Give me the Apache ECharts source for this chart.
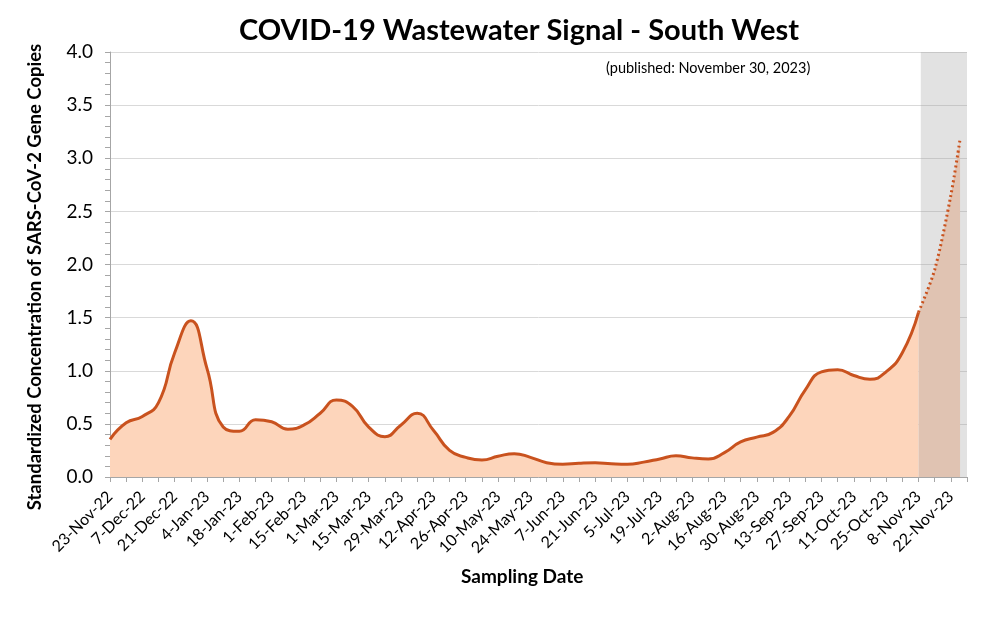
<!DOCTYPE html>
<html>
<head>
<meta charset="utf-8">
<script src="https://cdn.jsdelivr.net/npm/echarts@6/dist/echarts.min.js"></script>
<style>
  html, body { margin: 0; padding: 0; background: #fff; }
  #chart-panel { width: 1002px; height: 624px; }
</style>
</head>
<body>
<div id="chart-panel"></div>
<script>
(function () {
  var myChart = echarts.init(document.querySelector('#chart-panel'));

  // first sampling date, axis runs one year + a week from here
  var startDate = '2022-11-23';
  var axisEndDate = '2023-11-29';
  var shadeStartDate = '2023-11-09';

  // weekly signal, 23-Nov-22 .. 8-Nov-23
  var weeklyValues = [
    0.355, 0.51, 0.57, 0.70, 1.17, 1.47, 1.02, 0.47, 0.43, 0.54,
    0.52, 0.45, 0.49, 0.60, 0.725, 0.665, 0.47, 0.38, 0.49, 0.60,
    0.44, 0.25, 0.185, 0.16, 0.195, 0.22, 0.185, 0.135, 0.12, 0.13,
    0.135, 0.125, 0.12, 0.14, 0.17, 0.20, 0.18, 0.17, 0.23, 0.33,
    0.375, 0.42, 0.57, 0.82, 0.99, 1.01, 0.955, 0.92, 0.99, 1.17,
    1.55
  ];

  // most recent (incomplete) samples, drawn dotted
  var recentDates = ['2023-11-08', '2023-11-15', '2023-11-22', '2023-11-26'];
  var recentValues = [1.55, 1.95, 2.65, 3.18];

  var months = ['Jan', 'Feb', 'Mar', 'Apr', 'May', 'Jun', 'Jul', 'Aug', 'Sep', 'Oct', 'Nov', 'Dec'];
  var DAY = 86400000;
  var t0 = Date.parse(startDate);
  function dayIndex(s) { return Math.round((Date.parse(s) - t0) / DAY); }
  function dayLabel(d) {
    var dt = new Date(t0 + d * DAY);
    return dt.getUTCDate() + '-' + months[dt.getUTCMonth()] + '-' + String(dt.getUTCFullYear()).slice(2);
  }

  var solidData = weeklyValues.map(function (v, i) { return [i * 7, v]; });
  var recentData = recentDates.map(function (s, i) { return [dayIndex(s), recentValues[i]]; });

  var font = 'Lato, "Open Sans", sans-serif';
  var lineColor = '#c9521e';

  var option = {
    animation: false,
    grid: { left: 110, right: 35, top: 52, bottom: 147 },
    graphic: [
      { type: 'text', left: 239, top: 16,
        style: { text: 'COVID-19 Wastewater Signal - South West', font: 'bold 29px ' + font, fill: '#000' } },
      { type: 'text', left: 606, top: 61,
        style: { text: '(published: November 30, 2023)', font: '14.5px ' + font, fill: '#000' } },
      { type: 'text', left: 461, top: 567,
        style: { text: 'Sampling Date', font: 'bold 19px ' + font, fill: '#000' } },
      { type: 'text', x: 35, y: 277, rotation: Math.PI / 2,
        style: { text: 'Standardized Concentration of SARS-CoV-2 Gene Copies', font: 'bold 18.5px ' + font,
                 fill: '#000', align: 'center', verticalAlign: 'middle' } }
    ],
    xAxis: {
      type: 'value',
      min: 0,
      max: dayIndex(axisEndDate),
      interval: 7,
      splitLine: { show: false },
      axisLine: { show: true, lineStyle: { color: '#a6a6a6' } },
      axisTick: { show: true, length: 5, lineStyle: { color: '#a6a6a6' } },
      axisLabel: {
        rotate: 45,
        margin: 17,
        fontSize: 16,
        fontFamily: font,
        color: '#000',
        formatter: function (v) { return v % 14 === 0 ? dayLabel(v) : ''; }
      }
    },
    yAxis: {
      type: 'value',
      min: 0,
      max: 4,
      interval: 0.5,
      axisLine: { show: true, lineStyle: { color: '#a6a6a6' } },
      axisTick: { show: true, length: 5, lineStyle: { color: '#a6a6a6' } },
      minorTick: { show: true, splitNumber: 5, length: 5, lineStyle: { color: '#a6a6a6' } },
      splitLine: { lineStyle: { color: '#d9d9d9' } },
      axisLabel: {
        fontSize: 19,
        fontFamily: font,
        color: '#000',
        margin: 17,
        formatter: function (v) { return v.toFixed(1); }
      }
    },
    series: [
      {
        name: 'shade',
        type: 'line',
        z: 1,
        data: [],
        markArea: {
          silent: true,
          itemStyle: { color: 'rgba(160,160,160,0.3)' },
          data: [[{ xAxis: dayIndex(shadeStartDate) }, { xAxis: dayIndex(axisEndDate) }]]
        }
      },
      {
        name: 'signal',
        type: 'line',
        z: 3,
        smooth: 0.5,
        showSymbol: false,
        data: solidData,
        lineStyle: { color: lineColor, width: 3 },
        areaStyle: { color: '#fdd5bb', opacity: 1 }
      },
      {
        name: 'recent',
        type: 'line',
        z: 3,
        smooth: 0.3,
        showSymbol: false,
        data: recentData,
        lineStyle: { color: lineColor, width: 3, type: [2, 3] },
        areaStyle: { color: '#e0c3b2', opacity: 1 }
      }
    ]
  };

  myChart.setOption(option);
})();
</script>
</body>
</html>
